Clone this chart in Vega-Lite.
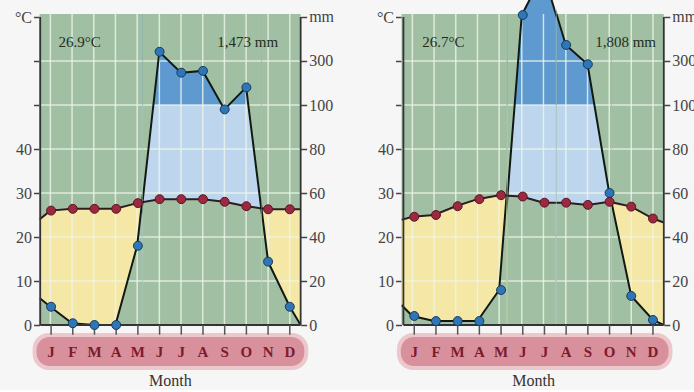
{
"$schema":"https://vega.github.io/schema/vega-lite/v6.json",
"background":"#f6f6f6",
"padding":{"left":13.5,"top":0,"right":0,"bottom":0},
"autosize":{"type":"pad"},
"spacing":0,
"bounds":"flush",
"config":{"view":{"stroke":null}},
"datasets":{
"L":[
{"m":0.5,"t":24.0,"p":12.3,"lab":""},
{"m":1,"t":26.0,"p":8.3,"lab":"J"},
{"m":2,"t":26.4,"p":0.8,"lab":"F"},
{"m":3,"t":26.4,"p":0,"lab":"M"},
{"m":4,"t":26.4,"p":0,"lab":"A"},
{"m":5,"t":27.7,"p":36,"lab":"M"},
{"m":6,"t":28.6,"p":342,"lab":"J"},
{"m":7,"t":28.6,"p":247,"lab":"J"},
{"m":8,"t":28.6,"p":255,"lab":"A"},
{"m":9,"t":28.0,"p":98,"lab":"S"},
{"m":10,"t":27.0,"p":180,"lab":"O"},
{"m":11,"t":26.3,"p":28.8,"lab":"N"},
{"m":12,"t":26.3,"p":8.3,"lab":"D"},
{"m":12.5,"t":26.3,"p":0,"lab":""}],
"R":[
{"m":0.5,"t":23.9,"p":9.1,"lab":""},
{"m":1,"t":24.6,"p":4.1,"lab":"J"},
{"m":2,"t":25.0,"p":1.8,"lab":"F"},
{"m":3,"t":27.0,"p":1.8,"lab":"M"},
{"m":4,"t":28.6,"p":1.8,"lab":"A"},
{"m":5,"t":29.5,"p":15.9,"lab":"M"},
{"m":6,"t":29.2,"p":509,"lab":"J"},
{"m":7,"t":27.8,"p":700,"lab":"J"},
{"m":8,"t":27.8,"p":373,"lab":"A"},
{"m":9,"t":27.3,"p":285,"lab":"S"},
{"m":10,"t":28.0,"p":60,"lab":"O"},
{"m":11,"t":26.9,"p":13.2,"lab":"N"},
{"m":12,"t":24.2,"p":2.3,"lab":"D"},
{"m":12.5,"t":23.3,"p":0,"lab":""}],
"grid":[{"v":10},{"v":20},{"v":30},{"v":40},{"v":50},{"v":60}]
},
"hconcat":[
{"width":102.52,"height":325,"resolve":{"scale":{"y":"independent"}},"layer":[
 {"data":{"values":[{}]},"mark":{"type":"rect","color":"#a1bfa3"},"encoding":{"x":{"datum":0.5,"type":"quantitative","scale":{"domain":[0.5,5.2245],"nice":false,"zero":false},"axis":null},"x2":{"datum":12.5},"y":{"datum":0,"type":"quantitative","scale":{"domain":[0,73.864],"range":[325,0],"nice":false,"zero":false},"axis":{"orient":"left","values":[0,10,20,30,40,50,60,70],"labelExpr":"datum.value <= 40 ? datum.label : (datum.value == 70 ? '°C' : '')","title":null,"domain":false,"grid":false,"tickSize":6,"tickWidth":1.5,"tickColor":"#444","labelFont":"Liberation Serif","labelFontSize":16,"labelColor":"#444","labelPadding":2,"labelFlush":false,"labelOverlap":false,"labelBound":false}},"y2":{"datum":70.68}}},
 {"data":{"name":"L"},"mark":{"type":"area","color":"#f5e8a6","clip":true},"encoding":{"x":{"field":"m","type":"quantitative","scale":{"domain":[0.5,5.2245],"nice":false,"zero":false},"axis":null},"y":{"field":"t","type":"quantitative","scale":{"domain":[0,73.864],"range":[325,0],"nice":false,"zero":false},"axis":null},"y2":{"datum":0}}},
 {"data":{"name":"L"},"mark":{"type":"area","color":"#a1bfa3","clip":true},"encoding":{"x":{"field":"m","type":"quantitative","scale":{"domain":[0.5,5.2245],"nice":false,"zero":false},"axis":null},"y":{"field":"p","type":"quantitative","scale":{"domain":[0,100,577.27],"range":[325,105,0],"nice":false,"zero":false},"axis":null},"y2":{"datum":0}}},
 {"data":{"name":"L"},"transform":[{"filter":"datum.m >= 1 && datum.m <= 12"}],"mark":{"type":"rule","color":"#eef5ea","strokeWidth":1.5,"opacity":0.8,"clip":true},"encoding":{"x":{"field":"m","type":"quantitative","scale":{"domain":[0.5,5.2245],"nice":false,"zero":false},"axis":null},"y":{"datum":0,"type":"quantitative","scale":{"domain":[0,73.864],"range":[325,0],"nice":false,"zero":false},"axis":null},"y2":{"datum":70.68}}},
 {"data":{"name":"grid"},"mark":{"type":"rule","color":"#eef5ea","strokeWidth":1.5,"opacity":0.8,"clip":true},"encoding":{"y":{"field":"v","type":"quantitative","scale":{"domain":[0,73.864],"range":[325,0],"nice":false,"zero":false},"axis":null}}},
 {"data":{"name":"L"},"mark":{"type":"line","color":"#2a1e20","strokeWidth":2,"clip":true},"encoding":{"x":{"field":"m","type":"quantitative","scale":{"domain":[0.5,5.2245],"nice":false,"zero":false},"axis":null},"y":{"field":"t","type":"quantitative","scale":{"domain":[0,73.864],"range":[325,0],"nice":false,"zero":false},"axis":null}}},
 {"data":{"name":"L"},"mark":{"type":"line","color":"#111a12","strokeWidth":2,"clip":true},"encoding":{"x":{"field":"m","type":"quantitative","scale":{"domain":[0.5,5.2245],"nice":false,"zero":false},"axis":null},"y":{"field":"p","type":"quantitative","scale":{"domain":[0,100,577.27],"range":[325,105,0],"nice":false,"zero":false},"axis":null}}}
]},
{"width":118.73,"height":325,"resolve":{"scale":{"y":"independent"}},"layer":[
 {"data":{"values":[{}]},"mark":{"type":"rect","color":"#a1bfa3"},"encoding":{"y":{"datum":0,"type":"quantitative","scale":{"domain":[0,73.864],"range":[325,0],"nice":false,"zero":false},"axis":null},"y2":{"datum":70.68}}},
 {"data":{"values":[{}]},"mark":{"type":"rect","color":"#bdd6ee"},"encoding":{"y":{"datum":0,"type":"quantitative","scale":{"domain":[0,73.864],"range":[325,0],"nice":false,"zero":false},"axis":null},"y2":{"datum":50}}},
 {"data":{"values":[{}]},"mark":{"type":"rect","color":"#5e99d0"},"encoding":{"y":{"datum":50,"type":"quantitative","scale":{"domain":[0,73.864],"range":[325,0],"nice":false,"zero":false},"axis":null},"y2":{"datum":70.68}}},
 {"data":{"name":"L"},"mark":{"type":"area","color":"#a1bfa3","clip":true},"encoding":{"x":{"field":"m","type":"quantitative","scale":{"domain":[5.2245,10.696],"nice":false,"zero":false},"axis":null},"y":{"field":"p","type":"quantitative","scale":{"domain":[0,100,577.27],"range":[325,105,0],"nice":false,"zero":false},"axis":null},"y2":{"datum":513.6}}},
 {"data":{"name":"L"},"mark":{"type":"area","color":"#a1bfa3","clip":true},"encoding":{"x":{"field":"m","type":"quantitative","scale":{"domain":[5.2245,10.696],"nice":false,"zero":false},"axis":null},"y":{"field":"t","type":"quantitative","scale":{"domain":[0,73.864],"range":[325,0],"nice":false,"zero":false},"axis":null},"y2":{"datum":0}}},
 {"data":{"name":"L"},"transform":[{"filter":"datum.m >= 1 && datum.m <= 12"}],"mark":{"type":"rule","color":"#eef5ea","strokeWidth":1.5,"opacity":0.8,"clip":true},"encoding":{"x":{"field":"m","type":"quantitative","scale":{"domain":[5.2245,10.696],"nice":false,"zero":false},"axis":null},"y":{"datum":0,"type":"quantitative","scale":{"domain":[0,73.864],"range":[325,0],"nice":false,"zero":false},"axis":null},"y2":{"datum":70.68}}},
 {"data":{"name":"grid"},"mark":{"type":"rule","color":"#eef5ea","strokeWidth":1.5,"opacity":0.8,"clip":true},"encoding":{"y":{"field":"v","type":"quantitative","scale":{"domain":[0,73.864],"range":[325,0],"nice":false,"zero":false},"axis":null}}},
 {"data":{"name":"L"},"mark":{"type":"line","color":"#2a1e20","strokeWidth":2,"clip":true},"encoding":{"x":{"field":"m","type":"quantitative","scale":{"domain":[5.2245,10.696],"nice":false,"zero":false},"axis":null},"y":{"field":"t","type":"quantitative","scale":{"domain":[0,73.864],"range":[325,0],"nice":false,"zero":false},"axis":null}}},
 {"data":{"name":"L"},"mark":{"type":"line","color":"#111a12","strokeWidth":2,"clip":true},"encoding":{"x":{"field":"m","type":"quantitative","scale":{"domain":[5.2245,10.696],"nice":false,"zero":false},"axis":null},"y":{"field":"p","type":"quantitative","scale":{"domain":[0,100,577.27],"range":[325,105,0],"nice":false,"zero":false},"axis":null}}}
]},
{"width":39.15,"height":325,"resolve":{"scale":{"y":"independent"}},"layer":[
 {"data":{"values":[{}]},"mark":{"type":"rect","color":"#a1bfa3"},"encoding":{"y":{"datum":0,"type":"quantitative","scale":{"domain":[0,73.864],"range":[325,0],"nice":false,"zero":false},"axis":null},"y2":{"datum":70.68}}},
 {"data":{"name":"L"},"mark":{"type":"area","color":"#f5e8a6","clip":true},"encoding":{"x":{"field":"m","type":"quantitative","scale":{"domain":[10.696,12.5],"nice":false,"zero":false},"axis":null},"y":{"field":"t","type":"quantitative","scale":{"domain":[0,73.864],"range":[325,0],"nice":false,"zero":false},"axis":null},"y2":{"datum":0}}},
 {"data":{"name":"L"},"mark":{"type":"area","color":"#a1bfa3","clip":true},"encoding":{"x":{"field":"m","type":"quantitative","scale":{"domain":[10.696,12.5],"nice":false,"zero":false},"axis":null},"y":{"field":"p","type":"quantitative","scale":{"domain":[0,100,577.27],"range":[325,105,0],"nice":false,"zero":false},"axis":null},"y2":{"datum":0}}},
 {"data":{"name":"L"},"transform":[{"filter":"datum.m >= 1 && datum.m <= 12"}],"mark":{"type":"rule","color":"#eef5ea","strokeWidth":1.5,"opacity":0.8,"clip":true},"encoding":{"x":{"field":"m","type":"quantitative","scale":{"domain":[10.696,12.5],"nice":false,"zero":false},"axis":null},"y":{"datum":0,"type":"quantitative","scale":{"domain":[0,73.864],"range":[325,0],"nice":false,"zero":false},"axis":null},"y2":{"datum":70.68}}},
 {"data":{"name":"grid"},"mark":{"type":"rule","color":"#eef5ea","strokeWidth":1.5,"opacity":0.8,"clip":true},"encoding":{"y":{"field":"v","type":"quantitative","scale":{"domain":[0,73.864],"range":[325,0],"nice":false,"zero":false},"axis":null}}},
 {"data":{"name":"L"},"mark":{"type":"line","color":"#2a1e20","strokeWidth":2,"clip":true},"encoding":{"x":{"field":"m","type":"quantitative","scale":{"domain":[10.696,12.5],"nice":false,"zero":false},"axis":null},"y":{"field":"t","type":"quantitative","scale":{"domain":[0,73.864],"range":[325,0],"nice":false,"zero":false},"axis":null}}},
 {"data":{"name":"L"},"mark":{"type":"line","color":"#111a12","strokeWidth":2,"clip":true},"encoding":{"x":{"field":"m","type":"quantitative","scale":{"domain":[10.696,12.5],"nice":false,"zero":false},"axis":null},"y":{"field":"p","type":"quantitative","scale":{"domain":[0,100,577.27],"range":[325,105,0],"nice":false,"zero":false},"axis":null}}},
 {"data":{"values":[{}]},"mark":{"type":"rule","color":"#333","strokeWidth":1.8},"encoding":{"x":{"datum":0.5,"type":"quantitative","scale":{"domain":[10.696,12.5],"nice":false,"zero":false},"axis":null},"y":{"datum":0,"type":"quantitative","scale":{"domain":[0,73.864],"range":[325,0],"nice":false,"zero":false},"axis":null},"y2":{"datum":70}}},
 {"data":{"values":[{}]},"mark":{"type":"rule","color":"#333","strokeWidth":1.8},"encoding":{"x":{"datum":12.5,"type":"quantitative","scale":{"domain":[10.696,12.5],"nice":false,"zero":false},"axis":null},"y":{"datum":0,"type":"quantitative","scale":{"domain":[0,73.864],"range":[325,0],"nice":false,"zero":false},"axis":null},"y2":{"datum":70}}},
 {"data":{"values":[{}]},"mark":{"type":"rect","color":"#ecc7cc","cornerRadius":16},"encoding":{"x":{"datum":0.15,"type":"quantitative","scale":{"domain":[10.696,12.5],"nice":false,"zero":false},"axis":null},"x2":{"datum":12.85},"y":{"datum":-1.8,"type":"quantitative","scale":{"domain":[0,73.864],"range":[325,0],"nice":false,"zero":false},"axis":null},"y2":{"datum":-10.2}}},
 {"data":{"values":[{}]},"mark":{"type":"rect","color":"#d8919c","cornerRadius":13},"encoding":{"x":{"datum":0.33,"type":"quantitative","scale":{"domain":[10.696,12.5],"nice":false,"zero":false},"axis":null},"x2":{"datum":12.67},"y":{"datum":-2.7,"type":"quantitative","scale":{"domain":[0,73.864],"range":[325,0],"nice":false,"zero":false},"axis":null},"y2":{"datum":-9.3}}},
 {"data":{"values":[{}]},"mark":{"type":"rule","color":"#333","strokeWidth":2},"encoding":{"x":{"datum":0.5,"type":"quantitative","scale":{"domain":[10.696,12.5],"nice":false,"zero":false},"axis":null},"x2":{"datum":12.5},"y":{"datum":0,"type":"quantitative","scale":{"domain":[0,73.864],"range":[325,0],"nice":false,"zero":false},"axis":null}}},
 {"data":{"name":"L"},"transform":[{"filter":"datum.m >= 1 && datum.m <= 12"}],"mark":{"type":"rule","color":"#555","strokeWidth":1.5},"encoding":{"x":{"field":"m","type":"quantitative","scale":{"domain":[10.696,12.5],"nice":false,"zero":false},"axis":null},"y":{"datum":0,"type":"quantitative","scale":{"domain":[0,73.864],"range":[325,0],"nice":false,"zero":false},"axis":null},"y2":{"datum":-2.2}}},
 {"data":{"name":"L"},"transform":[{"filter":"datum.m >= 1 && datum.m <= 12"}],"mark":{"type":"text","font":"Liberation Serif","fontSize":15,"fontWeight":"bold","color":"#7d1a2e","baseline":"middle"},"encoding":{"x":{"field":"m","type":"quantitative","scale":{"domain":[10.696,12.5],"nice":false,"zero":false},"axis":null},"y":{"datum":-6.1,"type":"quantitative","scale":{"domain":[0,73.864],"range":[325,0],"nice":false,"zero":false},"axis":null},"text":{"field":"lab"}}},
 {"data":{"values":[{}]},"mark":{"type":"text","font":"Liberation Serif","fontSize":16,"color":"#333","baseline":"middle"},"encoding":{"x":{"datum":6.5,"type":"quantitative","scale":{"domain":[10.696,12.5],"nice":false,"zero":false},"axis":null},"y":{"datum":-12.8,"type":"quantitative","scale":{"domain":[0,73.864],"range":[325,0],"nice":false,"zero":false},"axis":null},"text":{"value":"Month"}}},
 {"data":{"values":[{}]},"mark":{"type":"text","font":"Liberation Serif","fontSize":15,"color":"#1e2e22","baseline":"middle"},"encoding":{"x":{"datum":2.32,"type":"quantitative","scale":{"domain":[10.696,12.5],"nice":false,"zero":false},"axis":null},"y":{"datum":64.3,"type":"quantitative","scale":{"domain":[0,73.864],"range":[325,0],"nice":false,"zero":false},"axis":null},"text":{"value":"26.9°C"}}},
 {"data":{"values":[{}]},"mark":{"type":"text","font":"Liberation Serif","fontSize":15,"color":"#1e2e22","baseline":"middle"},"encoding":{"x":{"datum":10.06,"type":"quantitative","scale":{"domain":[10.696,12.5],"nice":false,"zero":false},"axis":null},"y":{"datum":64.3,"type":"quantitative","scale":{"domain":[0,73.864],"range":[325,0],"nice":false,"zero":false},"axis":null},"text":{"value":"1,473 mm"}}},
 {"data":{"name":"L"},"transform":[{"filter":"datum.m >= 1 && datum.m <= 12 && datum.p < 577"}],"mark":{"type":"point","filled":true,"size":80,"color":"#2f76b6","stroke":"#173a5c","strokeWidth":1,"opacity":1},"encoding":{"x":{"field":"m","type":"quantitative","scale":{"domain":[10.696,12.5],"nice":false,"zero":false},"axis":null},"y":{"field":"p","type":"quantitative","scale":{"domain":[0,100,577.27],"range":[325,105,0],"nice":false,"zero":false},"axis":{"orient":"right","values":[0,20,40,60,80,100,300,500],"labelExpr":"datum.value == 500 ? 'mm' : datum.label","title":null,"domain":false,"grid":false,"tickSize":6,"tickWidth":1.5,"tickColor":"#444","labelFont":"Liberation Serif","labelFontSize":16,"labelColor":"#444","labelPadding":2,"labelFlush":false,"labelOverlap":false,"labelBound":false}}}},
 {"data":{"name":"L"},"transform":[{"filter":"datum.m >= 1 && datum.m <= 12"}],"mark":{"type":"point","filled":true,"size":80,"color":"#9b2940","stroke":"#5c1422","strokeWidth":1,"opacity":1},"encoding":{"x":{"field":"m","type":"quantitative","scale":{"domain":[10.696,12.5],"nice":false,"zero":false},"axis":null},"y":{"field":"t","type":"quantitative","scale":{"domain":[0,73.864],"range":[325,0],"nice":false,"zero":false},"axis":null}}}
]},
{"width":100,"height":325,"data":{"values":[{}]},"mark":{"type":"text","text":""},"encoding":{}},
{"width":105.10,"height":325,"resolve":{"scale":{"y":"independent"}},"layer":[
 {"data":{"values":[{}]},"mark":{"type":"rect","color":"#a1bfa3"},"encoding":{"x":{"datum":0.5,"type":"quantitative","scale":{"domain":[0.5,5.3432],"nice":false,"zero":false},"axis":null},"x2":{"datum":12.5},"y":{"datum":0,"type":"quantitative","scale":{"domain":[0,73.864],"range":[325,0],"nice":false,"zero":false},"axis":{"orient":"left","values":[0,10,20,30,40,50,60,70],"labelExpr":"datum.value <= 40 ? datum.label : (datum.value == 70 ? '°C' : '')","title":null,"domain":false,"grid":false,"tickSize":6,"tickWidth":1.5,"tickColor":"#444","labelFont":"Liberation Serif","labelFontSize":16,"labelColor":"#444","labelPadding":2,"labelFlush":false,"labelOverlap":false,"labelBound":false}},"y2":{"datum":70.68}}},
 {"data":{"name":"R"},"mark":{"type":"area","color":"#f5e8a6","clip":true},"encoding":{"x":{"field":"m","type":"quantitative","scale":{"domain":[0.5,5.3432],"nice":false,"zero":false},"axis":null},"y":{"field":"t","type":"quantitative","scale":{"domain":[0,73.864],"range":[325,0],"nice":false,"zero":false},"axis":null},"y2":{"datum":0}}},
 {"data":{"name":"R"},"mark":{"type":"area","color":"#a1bfa3","clip":true},"encoding":{"x":{"field":"m","type":"quantitative","scale":{"domain":[0.5,5.3432],"nice":false,"zero":false},"axis":null},"y":{"field":"p","type":"quantitative","scale":{"domain":[0,100,577.27],"range":[325,105,0],"nice":false,"zero":false},"axis":null},"y2":{"datum":0}}},
 {"data":{"name":"R"},"transform":[{"filter":"datum.m >= 1 && datum.m <= 12"}],"mark":{"type":"rule","color":"#eef5ea","strokeWidth":1.5,"opacity":0.8,"clip":true},"encoding":{"x":{"field":"m","type":"quantitative","scale":{"domain":[0.5,5.3432],"nice":false,"zero":false},"axis":null},"y":{"datum":0,"type":"quantitative","scale":{"domain":[0,73.864],"range":[325,0],"nice":false,"zero":false},"axis":null},"y2":{"datum":70.68}}},
 {"data":{"name":"grid"},"mark":{"type":"rule","color":"#eef5ea","strokeWidth":1.5,"opacity":0.8,"clip":true},"encoding":{"y":{"field":"v","type":"quantitative","scale":{"domain":[0,73.864],"range":[325,0],"nice":false,"zero":false},"axis":null}}},
 {"data":{"name":"R"},"mark":{"type":"line","color":"#2a1e20","strokeWidth":2,"clip":true},"encoding":{"x":{"field":"m","type":"quantitative","scale":{"domain":[0.5,5.3432],"nice":false,"zero":false},"axis":null},"y":{"field":"t","type":"quantitative","scale":{"domain":[0,73.864],"range":[325,0],"nice":false,"zero":false},"axis":null}}},
 {"data":{"name":"R"},"mark":{"type":"line","color":"#111a12","strokeWidth":2,"clip":true},"encoding":{"x":{"field":"m","type":"quantitative","scale":{"domain":[0.5,5.3432],"nice":false,"zero":false},"axis":null},"y":{"field":"p","type":"quantitative","scale":{"domain":[0,100,577.27],"range":[325,105,0],"nice":false,"zero":false},"axis":null}}}
]},
{"width":48.32,"height":325,"resolve":{"scale":{"y":"independent"}},"layer":[
 {"data":{"values":[{}]},"mark":{"type":"rect","color":"#a1bfa3"},"encoding":{"y":{"datum":0,"type":"quantitative","scale":{"domain":[0,73.864],"range":[325,0],"nice":false,"zero":false},"axis":null},"y2":{"datum":70.68}}},
 {"data":{"values":[{}]},"mark":{"type":"rect","color":"#bdd6ee"},"encoding":{"y":{"datum":0,"type":"quantitative","scale":{"domain":[0,73.864],"range":[325,0],"nice":false,"zero":false},"axis":null},"y2":{"datum":50}}},
 {"data":{"values":[{}]},"mark":{"type":"rect","color":"#5e99d0"},"encoding":{"y":{"datum":50,"type":"quantitative","scale":{"domain":[0,73.864],"range":[325,0],"nice":false,"zero":false},"axis":null},"y2":{"datum":70.68}}},
 {"data":{"name":"R"},"mark":{"type":"area","color":"#a1bfa3","clip":true},"encoding":{"x":{"field":"m","type":"quantitative","scale":{"domain":[5.3432,7.57],"nice":false,"zero":false},"axis":null},"y":{"field":"p","type":"quantitative","scale":{"domain":[0,100,577.27],"range":[325,105,0],"nice":false,"zero":false},"axis":null},"y2":{"datum":513.6}}},
 {"data":{"values":[{}]},"mark":{"type":"rect","color":"#f6f6f6"},"encoding":{"y":{"datum":70.68,"type":"quantitative","scale":{"domain":[0,73.864],"range":[325,0],"nice":false,"zero":false},"axis":null},"y2":{"datum":73.864}}},
 {"data":{"name":"R"},"transform":[{"filter":"datum.m >= 6 && datum.m <= 8"}],"mark":{"type":"area","color":"#5e99d0","clip":true},"encoding":{"x":{"field":"m","type":"quantitative","scale":{"domain":[5.3432,7.57],"nice":false,"zero":false},"axis":null},"y":{"field":"p","type":"quantitative","scale":{"domain":[0,100,577.27],"range":[325,105,0],"nice":false,"zero":false},"axis":null},"y2":{"datum":513.6}}},
 {"data":{"name":"R"},"mark":{"type":"area","color":"#a1bfa3","clip":true},"encoding":{"x":{"field":"m","type":"quantitative","scale":{"domain":[5.3432,7.57],"nice":false,"zero":false},"axis":null},"y":{"field":"t","type":"quantitative","scale":{"domain":[0,73.864],"range":[325,0],"nice":false,"zero":false},"axis":null},"y2":{"datum":0}}},
 {"data":{"name":"R"},"transform":[{"filter":"datum.m >= 1 && datum.m <= 12"}],"mark":{"type":"rule","color":"#eef5ea","strokeWidth":1.5,"opacity":0.8,"clip":true},"encoding":{"x":{"field":"m","type":"quantitative","scale":{"domain":[5.3432,7.57],"nice":false,"zero":false},"axis":null},"y":{"datum":0,"type":"quantitative","scale":{"domain":[0,73.864],"range":[325,0],"nice":false,"zero":false},"axis":null},"y2":{"datum":70.68}}},
 {"data":{"name":"grid"},"mark":{"type":"rule","color":"#eef5ea","strokeWidth":1.5,"opacity":0.8,"clip":true},"encoding":{"y":{"field":"v","type":"quantitative","scale":{"domain":[0,73.864],"range":[325,0],"nice":false,"zero":false},"axis":null}}},
 {"data":{"name":"R"},"mark":{"type":"line","color":"#2a1e20","strokeWidth":2,"clip":true},"encoding":{"x":{"field":"m","type":"quantitative","scale":{"domain":[5.3432,7.57],"nice":false,"zero":false},"axis":null},"y":{"field":"t","type":"quantitative","scale":{"domain":[0,73.864],"range":[325,0],"nice":false,"zero":false},"axis":null}}},
 {"data":{"name":"R"},"mark":{"type":"line","color":"#111a12","strokeWidth":2,"clip":true},"encoding":{"x":{"field":"m","type":"quantitative","scale":{"domain":[5.3432,7.57],"nice":false,"zero":false},"axis":null},"y":{"field":"p","type":"quantitative","scale":{"domain":[0,100,577.27],"range":[325,105,0],"nice":false,"zero":false},"axis":null}}}
]},
{"width":54.68,"height":325,"resolve":{"scale":{"y":"independent"}},"layer":[
 {"data":{"values":[{}]},"mark":{"type":"rect","color":"#a1bfa3"},"encoding":{"y":{"datum":0,"type":"quantitative","scale":{"domain":[0,73.864],"range":[325,0],"nice":false,"zero":false},"axis":null},"y2":{"datum":70.68}}},
 {"data":{"values":[{}]},"mark":{"type":"rect","color":"#bdd6ee"},"encoding":{"y":{"datum":0,"type":"quantitative","scale":{"domain":[0,73.864],"range":[325,0],"nice":false,"zero":false},"axis":null},"y2":{"datum":50}}},
 {"data":{"values":[{}]},"mark":{"type":"rect","color":"#5e99d0"},"encoding":{"y":{"datum":50,"type":"quantitative","scale":{"domain":[0,73.864],"range":[325,0],"nice":false,"zero":false},"axis":null},"y2":{"datum":70.68}}},
 {"data":{"name":"R"},"mark":{"type":"area","color":"#a1bfa3","clip":true},"encoding":{"x":{"field":"m","type":"quantitative","scale":{"domain":[7.57,10.0897],"nice":false,"zero":false},"axis":null},"y":{"field":"p","type":"quantitative","scale":{"domain":[0,100,577.27],"range":[325,105,0],"nice":false,"zero":false},"axis":null},"y2":{"datum":513.6}}},
 {"data":{"values":[{}]},"mark":{"type":"rect","color":"#f6f6f6"},"encoding":{"y":{"datum":70.68,"type":"quantitative","scale":{"domain":[0,73.864],"range":[325,0],"nice":false,"zero":false},"axis":null},"y2":{"datum":73.864}}},
 {"data":{"name":"R"},"mark":{"type":"area","color":"#a1bfa3","clip":true},"encoding":{"x":{"field":"m","type":"quantitative","scale":{"domain":[7.57,10.0897],"nice":false,"zero":false},"axis":null},"y":{"field":"t","type":"quantitative","scale":{"domain":[0,73.864],"range":[325,0],"nice":false,"zero":false},"axis":null},"y2":{"datum":0}}},
 {"data":{"name":"R"},"transform":[{"filter":"datum.m >= 1 && datum.m <= 12"}],"mark":{"type":"rule","color":"#eef5ea","strokeWidth":1.5,"opacity":0.8,"clip":true},"encoding":{"x":{"field":"m","type":"quantitative","scale":{"domain":[7.57,10.0897],"nice":false,"zero":false},"axis":null},"y":{"datum":0,"type":"quantitative","scale":{"domain":[0,73.864],"range":[325,0],"nice":false,"zero":false},"axis":null},"y2":{"datum":70.68}}},
 {"data":{"name":"grid"},"mark":{"type":"rule","color":"#eef5ea","strokeWidth":1.5,"opacity":0.8,"clip":true},"encoding":{"y":{"field":"v","type":"quantitative","scale":{"domain":[0,73.864],"range":[325,0],"nice":false,"zero":false},"axis":null}}},
 {"data":{"name":"R"},"mark":{"type":"line","color":"#2a1e20","strokeWidth":2,"clip":true},"encoding":{"x":{"field":"m","type":"quantitative","scale":{"domain":[7.57,10.0897],"nice":false,"zero":false},"axis":null},"y":{"field":"t","type":"quantitative","scale":{"domain":[0,73.864],"range":[325,0],"nice":false,"zero":false},"axis":null}}},
 {"data":{"name":"R"},"mark":{"type":"line","color":"#111a12","strokeWidth":2,"clip":true},"encoding":{"x":{"field":"m","type":"quantitative","scale":{"domain":[7.57,10.0897],"nice":false,"zero":false},"axis":null},"y":{"field":"p","type":"quantitative","scale":{"domain":[0,100,577.27],"range":[325,105,0],"nice":false,"zero":false},"axis":null}}}
]},
{"width":52.30,"height":325,"resolve":{"scale":{"y":"independent"}},"layer":[
 {"data":{"values":[{}]},"mark":{"type":"rect","color":"#a1bfa3"},"encoding":{"y":{"datum":0,"type":"quantitative","scale":{"domain":[0,73.864],"range":[325,0],"nice":false,"zero":false},"axis":null},"y2":{"datum":70.68}}},
 {"data":{"name":"R"},"mark":{"type":"area","color":"#f5e8a6","clip":true},"encoding":{"x":{"field":"m","type":"quantitative","scale":{"domain":[10.0897,12.5],"nice":false,"zero":false},"axis":null},"y":{"field":"t","type":"quantitative","scale":{"domain":[0,73.864],"range":[325,0],"nice":false,"zero":false},"axis":null},"y2":{"datum":0}}},
 {"data":{"name":"R"},"mark":{"type":"area","color":"#a1bfa3","clip":true},"encoding":{"x":{"field":"m","type":"quantitative","scale":{"domain":[10.0897,12.5],"nice":false,"zero":false},"axis":null},"y":{"field":"p","type":"quantitative","scale":{"domain":[0,100,577.27],"range":[325,105,0],"nice":false,"zero":false},"axis":null},"y2":{"datum":0}}},
 {"data":{"name":"R"},"transform":[{"filter":"datum.m >= 1 && datum.m <= 12"}],"mark":{"type":"rule","color":"#eef5ea","strokeWidth":1.5,"opacity":0.8,"clip":true},"encoding":{"x":{"field":"m","type":"quantitative","scale":{"domain":[10.0897,12.5],"nice":false,"zero":false},"axis":null},"y":{"datum":0,"type":"quantitative","scale":{"domain":[0,73.864],"range":[325,0],"nice":false,"zero":false},"axis":null},"y2":{"datum":70.68}}},
 {"data":{"name":"grid"},"mark":{"type":"rule","color":"#eef5ea","strokeWidth":1.5,"opacity":0.8,"clip":true},"encoding":{"y":{"field":"v","type":"quantitative","scale":{"domain":[0,73.864],"range":[325,0],"nice":false,"zero":false},"axis":null}}},
 {"data":{"name":"R"},"mark":{"type":"line","color":"#2a1e20","strokeWidth":2,"clip":true},"encoding":{"x":{"field":"m","type":"quantitative","scale":{"domain":[10.0897,12.5],"nice":false,"zero":false},"axis":null},"y":{"field":"t","type":"quantitative","scale":{"domain":[0,73.864],"range":[325,0],"nice":false,"zero":false},"axis":null}}},
 {"data":{"name":"R"},"mark":{"type":"line","color":"#111a12","strokeWidth":2,"clip":true},"encoding":{"x":{"field":"m","type":"quantitative","scale":{"domain":[10.0897,12.5],"nice":false,"zero":false},"axis":null},"y":{"field":"p","type":"quantitative","scale":{"domain":[0,100,577.27],"range":[325,105,0],"nice":false,"zero":false},"axis":null}}},
 {"data":{"values":[{}]},"mark":{"type":"rule","color":"#333","strokeWidth":1.8},"encoding":{"x":{"datum":0.5,"type":"quantitative","scale":{"domain":[10.0897,12.5],"nice":false,"zero":false},"axis":null},"y":{"datum":0,"type":"quantitative","scale":{"domain":[0,73.864],"range":[325,0],"nice":false,"zero":false},"axis":null},"y2":{"datum":70}}},
 {"data":{"values":[{}]},"mark":{"type":"rule","color":"#333","strokeWidth":1.8},"encoding":{"x":{"datum":12.5,"type":"quantitative","scale":{"domain":[10.0897,12.5],"nice":false,"zero":false},"axis":null},"y":{"datum":0,"type":"quantitative","scale":{"domain":[0,73.864],"range":[325,0],"nice":false,"zero":false},"axis":null},"y2":{"datum":70}}},
 {"data":{"values":[{}]},"mark":{"type":"rect","color":"#ecc7cc","cornerRadius":16},"encoding":{"x":{"datum":0.2,"type":"quantitative","scale":{"domain":[10.0897,12.5],"nice":false,"zero":false},"axis":null},"x2":{"datum":12.9},"y":{"datum":-1.8,"type":"quantitative","scale":{"domain":[0,73.864],"range":[325,0],"nice":false,"zero":false},"axis":null},"y2":{"datum":-10.2}}},
 {"data":{"values":[{}]},"mark":{"type":"rect","color":"#d8919c","cornerRadius":13},"encoding":{"x":{"datum":0.38,"type":"quantitative","scale":{"domain":[10.0897,12.5],"nice":false,"zero":false},"axis":null},"x2":{"datum":12.72},"y":{"datum":-2.7,"type":"quantitative","scale":{"domain":[0,73.864],"range":[325,0],"nice":false,"zero":false},"axis":null},"y2":{"datum":-9.3}}},
 {"data":{"values":[{}]},"mark":{"type":"rule","color":"#333","strokeWidth":2},"encoding":{"x":{"datum":0.5,"type":"quantitative","scale":{"domain":[10.0897,12.5],"nice":false,"zero":false},"axis":null},"x2":{"datum":12.5},"y":{"datum":0,"type":"quantitative","scale":{"domain":[0,73.864],"range":[325,0],"nice":false,"zero":false},"axis":null}}},
 {"data":{"name":"R"},"transform":[{"filter":"datum.m >= 1 && datum.m <= 12"}],"mark":{"type":"rule","color":"#555","strokeWidth":1.5},"encoding":{"x":{"field":"m","type":"quantitative","scale":{"domain":[10.0897,12.5],"nice":false,"zero":false},"axis":null},"y":{"datum":0,"type":"quantitative","scale":{"domain":[0,73.864],"range":[325,0],"nice":false,"zero":false},"axis":null},"y2":{"datum":-2.2}}},
 {"data":{"name":"R"},"transform":[{"filter":"datum.m >= 1 && datum.m <= 12"}],"mark":{"type":"text","font":"Liberation Serif","fontSize":15,"fontWeight":"bold","color":"#7d1a2e","baseline":"middle"},"encoding":{"x":{"field":"m","type":"quantitative","scale":{"domain":[10.0897,12.5],"nice":false,"zero":false},"axis":null},"y":{"datum":-6.1,"type":"quantitative","scale":{"domain":[0,73.864],"range":[325,0],"nice":false,"zero":false},"axis":null},"text":{"field":"lab"}}},
 {"data":{"values":[{}]},"mark":{"type":"text","font":"Liberation Serif","fontSize":16,"color":"#333","baseline":"middle"},"encoding":{"x":{"datum":6.5,"type":"quantitative","scale":{"domain":[10.0897,12.5],"nice":false,"zero":false},"axis":null},"y":{"datum":-12.8,"type":"quantitative","scale":{"domain":[0,73.864],"range":[325,0],"nice":false,"zero":false},"axis":null},"text":{"value":"Month"}}},
 {"data":{"values":[{}]},"mark":{"type":"text","font":"Liberation Serif","fontSize":15,"color":"#1e2e22","baseline":"middle"},"encoding":{"x":{"datum":2.34,"type":"quantitative","scale":{"domain":[10.0897,12.5],"nice":false,"zero":false},"axis":null},"y":{"datum":64.3,"type":"quantitative","scale":{"domain":[0,73.864],"range":[325,0],"nice":false,"zero":false},"axis":null},"text":{"value":"26.7°C"}}},
 {"data":{"values":[{}]},"mark":{"type":"text","font":"Liberation Serif","fontSize":15,"color":"#1e2e22","baseline":"middle"},"encoding":{"x":{"datum":10.74,"type":"quantitative","scale":{"domain":[10.0897,12.5],"nice":false,"zero":false},"axis":null},"y":{"datum":64.3,"type":"quantitative","scale":{"domain":[0,73.864],"range":[325,0],"nice":false,"zero":false},"axis":null},"text":{"value":"1,808 mm"}}},
 {"data":{"name":"R"},"transform":[{"filter":"datum.m >= 1 && datum.m <= 12 && datum.p < 577"}],"mark":{"type":"point","filled":true,"size":80,"color":"#2f76b6","stroke":"#173a5c","strokeWidth":1,"opacity":1},"encoding":{"x":{"field":"m","type":"quantitative","scale":{"domain":[10.0897,12.5],"nice":false,"zero":false},"axis":null},"y":{"field":"p","type":"quantitative","scale":{"domain":[0,100,577.27],"range":[325,105,0],"nice":false,"zero":false},"axis":{"orient":"right","values":[0,20,40,60,80,100,300,500],"labelExpr":"datum.value == 500 ? 'mm' : datum.label","title":null,"domain":false,"grid":false,"tickSize":6,"tickWidth":1.5,"tickColor":"#444","labelFont":"Liberation Serif","labelFontSize":16,"labelColor":"#444","labelPadding":2,"labelFlush":false,"labelOverlap":false,"labelBound":false}}}},
 {"data":{"name":"R"},"transform":[{"filter":"datum.m >= 1 && datum.m <= 12"}],"mark":{"type":"point","filled":true,"size":80,"color":"#9b2940","stroke":"#5c1422","strokeWidth":1,"opacity":1},"encoding":{"x":{"field":"m","type":"quantitative","scale":{"domain":[10.0897,12.5],"nice":false,"zero":false},"axis":null},"y":{"field":"t","type":"quantitative","scale":{"domain":[0,73.864],"range":[325,0],"nice":false,"zero":false},"axis":null}}}
]}
]
}
